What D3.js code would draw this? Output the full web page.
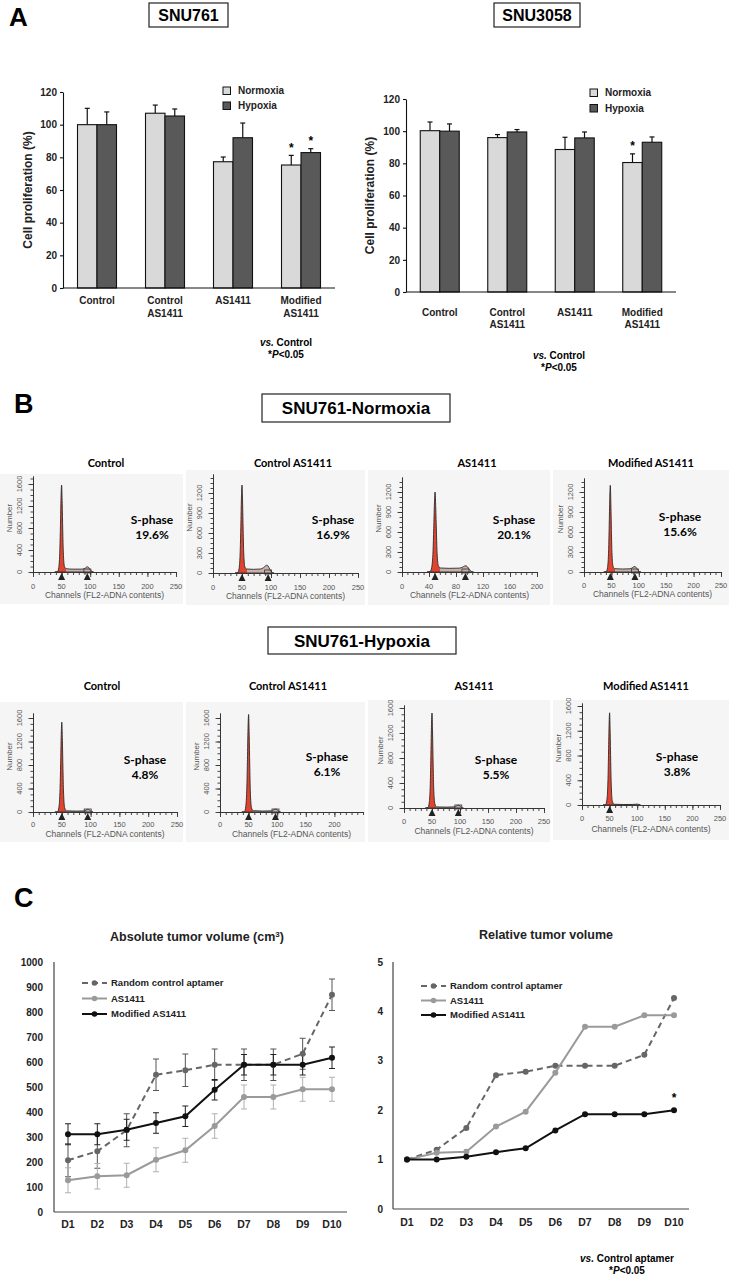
<!DOCTYPE html>
<html><head><meta charset="utf-8">
<script src="https://cdn.jsdelivr.net/npm/d3@7"></script>
<style>
body{margin:0;background:#fff}
svg{display:block}
text{font-family:"Liberation Sans",Arial,sans-serif}
.cal{font-family:Lato,"Open Sans",sans-serif}
</style>
</head><body>
<svg id="c" width="729" height="1274"></svg>
<script>
// ---------------- DATA ----------------
// Panel A
const groupsA = [["Control"], ["Control","AS1411"], ["AS1411"], ["Modified","AS1411"]];
const seriesA = ["Normoxia", "Hypoxia"];
const yTicksA = [0, 20, 40, 60, 80, 100, 120];
const snu761Normoxia    = [100, 107, 77.3, 75.3];
const snu761NormoxiaErr = [10, 5, 2.9, 5.9];
const snu761Hypoxia     = [100, 105.3, 92, 82.9];
const snu761HypoxiaErr  = [7.8, 4.3, 9, 2.4];
const snu761Sig = [[3, 0], [3, 1]];
const snu3058Normoxia    = [100.3, 96, 88.6, 80.5];
const snu3058NormoxiaErr = [5.4, 1.9, 7.6, 5.4];
const snu3058Hypoxia     = [100, 99.5, 95.8, 93.1];
const snu3058HypoxiaErr  = [4.5, 1.5, 3.7, 3.3];
const snu3058Sig = [[3, 0]];

// Panel B (flow cytometry histograms: [channel, count])
const histTitles = ["Control", "Control AS1411", "AS1411", "Modified AS1411"];
const sPhaseNormoxia = ["19.6%", "16.9%", "20.1%", "15.6%"];
const sPhaseHypoxia  = ["4.8%", "6.1%", "5.5%", "3.8%"];
const histNormCtrl = [[38,0],[43,10],[45,80],[47,420],[48,850],[49,1350],[50,1580],[51,1250],[52,760],[53,360],[55,100],[58,60],[70,52],[85,52],[90,62],[93,85],[95,95],[97,85],[100,40],[103,10],[106,0]];
const histNormCtrlAS = [[38,0],[43,10],[45,70],[47,350],[48,700],[49,1120],[50,1320],[51,1050],[52,640],[53,300],[55,90],[58,60],[70,55],[82,60],[87,80],[91,110],[93,118],[95,105],[98,55],[101,15],[105,0]];
const histNormAS = [[37,0],[42,10],[44,70],[46,320],[47,650],[48,1020],[49,1200],[50,960],[51,600],[52,280],[54,90],[57,60],[70,55],[85,58],[90,75],[93,90],[95,92],[97,78],[100,35],[103,8],[106,0]];
const histNormMod = [[36,0],[41,10],[43,70],[45,340],[46,700],[47,1100],[48,1300],[49,1030],[50,620],[51,290],[53,85],[56,50],[70,45],[84,48],[88,62],[91,78],[93,82],[95,70],[98,32],[101,8],[104,0]];
const histHypCtrl = [[38,0],[43,10],[45,80],[47,400],[48,820],[49,1300],[50,1530],[51,1220],[52,740],[53,340],[55,70],[58,20],[75,15],[88,18],[92,32],[95,45],[98,35],[101,12],[104,0]];
const histHypCtrlAS = [[38,0],[43,10],[45,90],[47,440],[48,900],[49,1420],[50,1660],[51,1320],[52,800],[53,360],[55,75],[58,22],[75,16],[90,20],[94,38],[97,50],[100,38],[103,12],[106,0]];
const histHypAS = [[38,0],[43,10],[45,80],[47,400],[48,820],[49,1290],[50,1520],[51,1200],[52,720],[53,330],[55,70],[58,18],[75,14],[90,18],[94,35],[97,45],[100,34],[103,10],[106,0]];
const histHypMod = [[38,0],[43,10],[45,78],[47,390],[48,800],[49,1260],[50,1490],[51,1180],[52,700],[53,320],[55,60],[58,12],[75,8],[92,9],[97,13],[100,14],[103,9],[106,0]];
const markersNorm = [[50,95],[50,95],[49,94],[48,93]];
const markersHyp  = [[50,95],[50,97],[50,97],[50]];

// Panel C
const days = ["D1","D2","D3","D4","D5","D6","D7","D8","D9","D10"];
const seriesC = ["Random control aptamer", "AS1411", "Modified AS1411"];
const absRandom    = [207, 243, 327, 549, 567, 589, 589, 589, 633, 869];
const absRandomErr = [66, 68, 66, 63, 65, 63, 63, 63, 62, 63];
const absAS        = [127, 143, 147, 209, 247, 344, 460, 460, 491, 491];
const absASErr     = [50, 51, 48, 48, 48, 49, 48, 48, 48, 48];
const absMod       = [311, 311, 329, 356, 383, 489, 589, 589, 589, 617];
const absModErr    = [42, 42, 42, 41, 41, 41, 41, 41, 41, 43];
const yTicksAbs = [0,100,200,300,400,500,600,700,800,900,1000];
const relRandom = [1.0, 1.2, 1.64, 2.71, 2.78, 2.9, 2.9, 2.9, 3.12, 4.27];
const relAS     = [1.0, 1.14, 1.16, 1.67, 1.97, 2.76, 3.69, 3.69, 3.92, 3.92];
const relMod    = [1.0, 1.0, 1.06, 1.15, 1.23, 1.59, 1.92, 1.92, 1.92, 2.0];
const yTicksRel = [0,1,2,3,4,5];
const relSig = [9];

// ---------------- DRAWING ----------------
const svg = d3.select("#c");
svg.append("rect").attr("width",729).attr("height",1274).attr("fill","#fff");

function label(txt, x, y, size){
  svg.append("text").attr("x",x).attr("y",y).attr("font-size",size).attr("font-weight","bold").text(txt);
}
function boxTitle(txt, x, y, w, h, size){
  svg.append("rect").attr("x",x).attr("y",y).attr("width",w).attr("height",h)
    .attr("fill","#fff").attr("stroke","#222").attr("stroke-width",1.2);
  svg.append("text").attr("x",x+w/2).attr("y",y+h/2+size*0.36).attr("text-anchor","middle")
    .attr("font-size",size).attr("font-weight","bold").text(txt);
}
function footnote(lines, cx, y0, dy){
  lines.forEach((parts,i)=>{
    const t = svg.append("text").attr("x",cx).attr("y",y0+i*dy).attr("text-anchor","middle")
      .attr("font-size",10).attr("font-weight","bold");
    parts.forEach(p=> t.append("tspan").attr("font-style",p[1]?"italic":"normal").text(p[0]));
  });
}

label("A", 9, 26, 26);
label("B", 14, 413, 27);
label("C", 14, 907, 27);

// ----- Panel A bar charts -----
function barChart(L, norm, normErr, hyp, hypErr, sig){
  const g = svg.append("g");
  const x = d3.scaleBand().domain(d3.range(groupsA.length)).range([L.x0, L.x1]);
  const y = d3.scaleLinear().domain([0,120]).range([L.y0, L.yTop]);
  const bw = L.bw;
  const vals = [norm, hyp], errs = [normErr, hypErr], fills = ["#d9d9d9", "#595959"];
  vals.forEach((arr, s)=>{
    arr.forEach((v,i)=>{
      const bx = x(i) + x.bandwidth()/2 - bw + s*bw;
      const top = y(v + errs[s][i]);
      g.append("line").attr("x1",bx+bw/2).attr("x2",bx+bw/2).attr("y1",y(v)).attr("y2",top)
        .attr("stroke","#111").attr("stroke-width",1.2);
      g.append("line").attr("x1",bx+bw/2-2.5).attr("x2",bx+bw/2+2.5).attr("y1",top).attr("y2",top)
        .attr("stroke","#111").attr("stroke-width",1.2);
      g.append("rect").attr("x",bx).attr("y",y(v)).attr("width",bw).attr("height",y(0)-y(v))
        .attr("fill",fills[s]).attr("stroke","#111").attr("stroke-width",1.1);
    });
  });
  sig.forEach(([i,s])=>{
    const v = vals[s][i] + errs[s][i];
    const bx = x(i) + x.bandwidth()/2 - bw + s*bw + bw/2;
    g.append("text").attr("x",bx).attr("y",y(v)-3.5).attr("text-anchor","middle")
      .attr("font-size",12).attr("font-weight","bold").text("*");
  });
  const ya = g.append("g").attr("transform",`translate(${L.x0},0)`)
    .call(d3.axisLeft(y).tickValues(yTicksA).tickSize(3).tickSizeOuter(0));
  ya.selectAll("path,line").attr("stroke","#111").attr("stroke-width",1.1);
  ya.selectAll("text").attr("font-size",10).attr("font-weight","bold").attr("fill","#222").attr("x",-6);
  g.append("line").attr("x1",L.x0).attr("x2",L.x1).attr("y1",L.y0).attr("y2",L.y0)
    .attr("stroke","#111").attr("stroke-width",1.1);
  groupsA.forEach((lines,i)=>{
    lines.forEach((t,k)=>{
      g.append("text").attr("x",x(i)+x.bandwidth()/2).attr("y",L.y0+L.lab1+k*L.labDy)
        .attr("text-anchor","middle").attr("font-size",10).attr("font-weight","bold").attr("fill","#222").text(t);
    });
  });
  g.append("text").attr("transform",`translate(${L.titleX},${(L.y0+L.yTop)/2}) rotate(-90)`)
    .attr("text-anchor","middle").attr("font-size",12).attr("font-weight","bold").attr("fill","#222")
    .text("Cell proliferation (%)");
  seriesA.forEach((s,k)=>{
    g.append("rect").attr("x",L.legX).attr("y",L.legY+k*L.legDy).attr("width",7.5).attr("height",7.5)
      .attr("fill",fills[k]).attr("stroke","#111").attr("stroke-width",1);
    g.append("text").attr("x",L.legX+15).attr("y",L.legY+k*L.legDy+7).attr("font-size",10)
      .attr("font-weight","bold").attr("fill","#222").text(s);
  });
}

boxTitle("SNU761", 149, 3, 79, 24, 16);
boxTitle("SNU3058", 494, 3, 86, 24, 16);
barChart({x0:63,x1:335,y0:288,yTop:92,bw:19.5,lab1:16,labDy:13,titleX:32,legX:223,legY:87,legDy:15},
  snu761Normoxia, snu761NormoxiaErr, snu761Hypoxia, snu761HypoxiaErr, snu761Sig);
barChart({x0:406,x1:676,y0:292,yTop:99,bw:19.5,lab1:24,labDy:11.5,titleX:374,legX:590,legY:89,legDy:15.5},
  snu3058Normoxia, snu3058NormoxiaErr, snu3058Hypoxia, snu3058HypoxiaErr, snu3058Sig);
footnote([[["vs.",1],[" Control",0]],[["*",0],["P",1],["<0.05",0]]], 286, 346, 12);
footnote([[["vs.",1],[" Control",0]],[["*",0],["P",1],["<0.05",0]]], 559, 359, 11.5);

// ----- Panel B histograms -----
boxTitle("SNU761-Normoxia", 262, 394, 188, 28, 17);
boxTitle("SNU761-Hypoxia", 268, 627, 188, 27, 17);

const histLayoutN = [
  {bg:[0,474,183,130], x0:33,x1:176,xMax:250,xTicks:[0,50,100,150,200,250],y0:572,yRefPx:484,yRefVal:1600,yTop:476,yTicks:[0,400,800,1200,1600],titleX:106,titleY:467,tickY:589,chanY:598,sX:152,sY:524},
  {bg:[186,470,179,135], x0:213,x1:358,xMax:250,xTicks:[0,50,100,150,200,250],y0:573,yRefPx:493,yRefVal:1200,yTop:474,yTicks:[0,300,600,900,1200],titleX:293,titleY:467,tickY:590,chanY:599,sX:333,sY:524},
  {bg:[368,470,182,135], x0:402,x1:537,xMax:200,xTicks:[0,40,80,120,160,200],y0:572,yRefPx:492,yRefVal:1200,yTop:477,yTicks:[0,300,600,900,1200],titleX:477,titleY:467,tickY:589,chanY:598,sX:514,sY:524},
  {bg:[553,470,176,135], x0:584,x1:721,xMax:250,xTicks:[0,50,100,150,200,250],y0:572,yRefPx:492,yRefVal:1200,yTop:478,yTicks:[0,300,600,900,1200],titleX:651,titleY:467,tickY:588,chanY:597,sX:680,sY:521}
];
const histLayoutH = [
  {bg:[0,702,183,140], x0:33,x1:177,xMax:250,xTicks:[0,50,100,150,200,250],y0:812,yRefPx:718,yRefVal:1600,yTop:713,yTicks:[0,400,800,1200,1600],titleX:102,titleY:690,tickY:827,chanY:837,sX:145,sY:764},
  {bg:[186,702,179,140], x0:220,x1:363,xMax:250,xTicks:[0,50,100,150,200],y0:812,yRefPx:718,yRefVal:1600,yTop:713,yTicks:[0,400,800,1200,1600],titleX:288,titleY:690,tickY:827,chanY:837,sX:327,sY:761},
  {bg:[368,700,182,142], x0:404,x1:544,xMax:250,xTicks:[0,50,100,150,200,250],y0:808,yRefPx:708,yRefVal:1600,yTop:705,yTicks:[0,400,800,1200,1600],titleX:474,titleY:690,tickY:824,chanY:834,sX:496,sY:764},
  {bg:[553,700,176,140], x0:582,x1:720,xMax:250,xTicks:[0,50,100,150,200,250],y0:805,yRefPx:706,yRefVal:1600,yTop:703,yTicks:[0,400,800,1200,1600],titleX:646,titleY:690,tickY:821,chanY:832,sX:677,sY:761}
];
const histDataN = [histNormCtrl, histNormCtrlAS, histNormAS, histNormMod];
const histDataH = [histHypCtrl, histHypCtrlAS, histHypAS, histHypMod];

const defs = svg.append("defs");
let gradId = 0;
function drawHist(L, pts, markers, title, sText){
  const g = svg.append("g");
  g.append("rect").attr("x",L.bg[0]).attr("y",L.bg[1]).attr("width",L.bg[2]).attr("height",L.bg[3]).attr("fill","#f5f5f5");
  const x = d3.scaleLinear().domain([0,L.xMax]).range([L.x0,L.x1]);
  const y = d3.scaleLinear().domain([0,L.yRefVal]).range([L.y0,L.yRefPx]);
  const topVal = y.invert(L.yTop);
  const yA = d3.scaleLinear().domain([0,topVal]).range([L.y0,L.yTop]);
  const yStep = L.yTicks[1]-L.yTicks[0], xStep = L.xTicks[1]-L.xTicks[0];
  const id = "hg"+(gradId++);
  const gr = defs.append("linearGradient").attr("id",id).attr("gradientUnits","userSpaceOnUse")
    .attr("x1",L.x0).attr("x2",L.x1).attr("y1",0).attr("y2",0);
  const cut = (x(markers[0]+8)-L.x0)/(L.x1-L.x0);
  gr.append("stop").attr("offset",0).attr("stop-color","#e0442e");
  gr.append("stop").attr("offset",cut).attr("stop-color","#e0442e");
  gr.append("stop").attr("offset",cut).attr("stop-color","#c9b0aa");
  gr.append("stop").attr("offset",1).attr("stop-color","#c9b0aa");
  const area = d3.area().x(d=>x(d[0])).y0(L.y0).y1(d=>y(d[1])).curve(d3.curveMonotoneX);
  g.append("path").datum(pts).attr("d",area).attr("fill",`url(#${id})`).attr("stroke","#2a2a2a").attr("stroke-width",0.9);
  const ya = g.append("g").attr("transform",`translate(${L.x0},0)`)
    .call(d3.axisLeft(yA).tickValues(d3.range(0,topVal,yStep/4)).tickSize(2.5).tickSizeOuter(0).tickFormat(""));
  const yb = g.append("g").attr("transform",`translate(${L.x0},0)`)
    .call(d3.axisLeft(yA).tickValues(L.yTicks).tickSize(4.5).tickSizeOuter(0).tickFormat(""));
  const xa = g.append("g").attr("transform",`translate(0,${L.y0})`)
    .call(d3.axisBottom(x).tickValues(d3.range(0,L.xMax+0.1,xStep/5)).tickSize(3).tickSizeOuter(0).tickFormat(""));
  const xb = g.append("g").attr("transform",`translate(0,${L.y0})`)
    .call(d3.axisBottom(x).tickValues(L.xTicks).tickSize(5).tickSizeOuter(0).tickFormat(""));
  [ya,yb,xa,xb].forEach(a=>a.selectAll("path,line").attr("stroke","#333").attr("stroke-width",0.9));
  L.yTicks.forEach(v=>{
    g.append("text").attr("transform",`translate(${L.x0-11},${y(v)}) rotate(-90)`).attr("text-anchor","middle")
      .attr("font-size",7.5).attr("fill","#555").text(v);
  });
  g.append("text").attr("transform",`translate(${L.x0-21},${(L.y0+L.yTop)/2-6}) rotate(-90)`).attr("text-anchor","middle")
    .attr("font-size",8).attr("fill","#555").text("Number");
  L.xTicks.forEach(v=>{
    g.append("text").attr("x",x(v)).attr("y",L.tickY).attr("text-anchor","middle")
      .attr("font-size",7.5).attr("fill","#555").text(v);
  });
  g.append("text").attr("x",(L.x0+L.x1)/2).attr("y",L.chanY).attr("text-anchor","middle")
    .attr("font-size",8.5).attr("fill","#555").text("Channels (FL2-ADNA contents)");
  markers.forEach((m,k)=>{
    const cx = x(m);
    g.append("path").attr("d",`M${cx-3.5},${L.y0+8}L${cx+3.5},${L.y0+8}L${cx},${L.y0+1}Z`).attr("fill","#222");
    if(k===1){
      g.append("rect").attr("x",cx-3.5).attr("y",L.y0-3).attr("width",7).attr("height",4)
        .attr("fill","none").attr("stroke","#333").attr("stroke-width",0.8);
    }
  });
  g.append("text").attr("class","cal").attr("x",L.titleX).attr("y",L.titleY).attr("text-anchor","middle")
    .attr("font-size",11).attr("font-weight","bold").text(title);
  g.append("text").attr("class","cal").attr("x",L.sX).attr("y",L.sY).attr("text-anchor","middle")
    .attr("font-size",12).attr("font-weight","bold").text("S-phase");
  g.append("text").attr("class","cal").attr("x",L.sX).attr("y",L.sY+15).attr("text-anchor","middle")
    .attr("font-size",12).attr("font-weight","bold").text(sText);
}
histLayoutN.forEach((L,i)=> drawHist(L, histDataN[i], markersNorm[i], histTitles[i], sPhaseNormoxia[i]));
histLayoutH.forEach((L,i)=> drawHist(L, histDataH[i], markersHyp[i], histTitles[i], sPhaseHypoxia[i]));

// ----- Panel C line charts -----
const styleC = [
  {color:"#666", dash:"6,4", err:"#555"},
  {color:"#9a9a9a", dash:null, err:"#b0b0b0"},
  {color:"#111", dash:null, err:"#222"}
];
function lineChart(L, yTicks, dataArr, errArr, title, sig){
  const g = svg.append("g");
  const x = d3.scalePoint().domain(days).range([L.d1, L.d10]);
  const y = d3.scaleLinear().domain([yTicks[0], yTicks[yTicks.length-1]]).range([L.y0, L.yTop]);
  g.append("text").attr("x",L.titleCx).attr("y",L.titleY).attr("text-anchor","middle")
    .attr("font-size",12.5).attr("font-weight","bold").attr("fill","#222").html(title);
  g.append("line").attr("x1",L.x0).attr("x2",L.x0).attr("y1",L.y0).attr("y2",L.yTop).attr("stroke","#444").attr("stroke-width",1.2);
  g.append("line").attr("x1",L.x0).attr("x2",L.x1).attr("y1",L.y0).attr("y2",L.y0).attr("stroke","#444").attr("stroke-width",1.2);
  yTicks.forEach(v=> g.append("text").attr("x",L.labX).attr("y",y(v)+3.5).attr("text-anchor","end")
    .attr("font-size",10).attr("font-weight","bold").attr("fill","#222").text(v));
  days.forEach(d=> g.append("text").attr("x",x(d)).attr("y",L.dayY).attr("text-anchor","middle")
    .attr("font-size",10.5).attr("font-weight","bold").attr("fill","#222").text(d));
  dataArr.forEach((arr,s)=>{
    const st = styleC[s];
    if(errArr){
      arr.forEach((v,i)=>{
        const e = errArr[s][i], cx = x(days[i]);
        g.append("line").attr("x1",cx).attr("x2",cx).attr("y1",y(v-e)).attr("y2",y(v+e)).attr("stroke",st.err).attr("stroke-width",1);
        [v-e, v+e].forEach(w=> g.append("line").attr("x1",cx-3).attr("x2",cx+3).attr("y1",y(w)).attr("y2",y(w)).attr("stroke",st.err).attr("stroke-width",1));
      });
    }
  });
  dataArr.forEach((arr,s)=>{
    const st = styleC[s];
    const line = d3.line().x((d,i)=>x(days[i])).y(d=>y(d));
    g.append("path").datum(arr).attr("d",line).attr("fill","none").attr("stroke",st.color)
      .attr("stroke-width",2).attr("stroke-dasharray",st.dash);
    arr.forEach((v,i)=> g.append("circle").attr("cx",x(days[i])).attr("cy",y(v)).attr("r",3).attr("fill",st.color));
  });
  seriesC.forEach((name,s)=>{
    const st = styleC[s], ly = L.legY + s*L.legDy;
    g.append("line").attr("x1",L.legX).attr("x2",L.legX+25).attr("y1",ly).attr("y2",ly)
      .attr("stroke",st.color).attr("stroke-width",2).attr("stroke-dasharray",st.dash);
    g.append("circle").attr("cx",L.legX+12.5).attr("cy",ly).attr("r",2.8).attr("fill",st.color);
    g.append("text").attr("x",L.legX+29).attr("y",ly+3.3).attr("font-size",9.5).attr("font-weight","bold").attr("fill","#222").text(name);
  });
  sig.forEach(i=>{
    g.append("text").attr("x",x(days[i])).attr("y",y(dataArr[2][i])-8).attr("text-anchor","middle")
      .attr("font-size",12).attr("font-weight","bold").text("*");
  });
}
lineChart({x0:54,x1:347,d1:68,d10:332,y0:1212,yTop:962,labX:43,dayY:1228,titleCx:197,titleY:941,legX:82,legY:983,legDy:15.5},
  yTicksAbs, [absRandom, absAS, absMod], [absRandomErr, absASErr, absModErr],
  "Absolute tumor volume (cm<tspan font-size='8' dy='-4'>3</tspan><tspan dy='4'>)</tspan>", []);
lineChart({x0:393,x1:689,d1:407,d10:674,y0:1209,yTop:962,labX:383,dayY:1226,titleCx:546,titleY:939,legX:421,legY:986,legDy:14.5},
  yTicksRel, [relRandom, relAS, relMod], null, "Relative tumor volume", relSig);
footnote([[["vs.",1],[" Control aptamer",0]],[["*",0],["P",1],["<0.05",0]]], 627, 1262, 11.5);
</script>
</body></html>
